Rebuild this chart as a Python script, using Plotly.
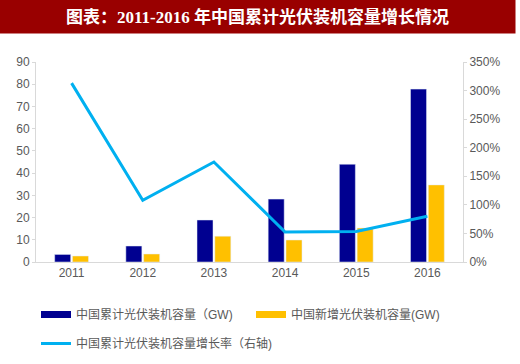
import plotly.graph_objects as go

years = ["2011", "2012", "2013", "2014", "2015", "2016"]
cumulative_gw = [3.4, 7.2, 18.9, 28.3, 44.0, 77.8]
new_gw = [2.7, 3.6, 11.6, 9.9, 15.3, 34.7]
growth_rate = [3.13, 1.08, 1.75, 0.525, 0.535, 0.80]

title_text = "图表：2011-2016 年中国累计光伏装机容量增长情况"
name_cum = "中国累计光伏装机容量（GW)"
name_new = "中国新增光伏装机容量(GW)"
name_rate = "中国累计光伏装机容量增长率（右轴)"

navy = "#000090"
gold = "#FFC000"
sky = "#00B0F0"
gray = "#595959"
axis_gray = "#D9D9D9"

fig = go.Figure()
fig.add_trace(go.Bar(x=years, y=cumulative_gw, name=name_cum, marker_color=navy,
                     showlegend=False))
fig.add_trace(go.Bar(x=years, y=new_gw, name=name_new, marker_color=gold,
                     showlegend=False))
fig.add_trace(go.Scatter(x=years, y=growth_rate, name=name_rate, mode="lines",
                         line=dict(color=sky, width=3), yaxis="y2", showlegend=False))

# legend entries styled as thick line swatches, like the reference
fig.add_trace(go.Scatter(x=[None], y=[None], mode="lines", name=name_cum,
                         line=dict(color=navy, width=7), legend="legend"))
fig.add_trace(go.Scatter(x=[None], y=[None], mode="lines", name=name_new,
                         line=dict(color=gold, width=7), legend="legend"))
fig.add_trace(go.Scatter(x=[None], y=[None], mode="lines", name=name_rate,
                         line=dict(color=sky, width=3), legend="legend2"))

font_family = "Liberation Sans, Noto Sans CJK SC, sans-serif"

fig.update_layout(
    width=520, height=364,
    margin=dict(l=36, r=57, t=62, b=102, autoexpand=False),
    paper_bgcolor="white", plot_bgcolor="white",
    font=dict(family=font_family, size=12, color=gray),
    barmode="group", bargap=0.5, bargroupgap=0.1,
    xaxis=dict(type="category", showline=True, linecolor=axis_gray, linewidth=1,
               ticks="", showgrid=False, automargin=False,
               tickfont=dict(size=12, color=gray)),
    yaxis=dict(range=[0, 90], dtick=10, showline=True, linecolor=axis_gray,
               ticks="outside", ticklen=3, tickcolor=axis_gray, showgrid=False,
               zeroline=False, automargin=False, tickfont=dict(size=12, color=gray)),
    yaxis2=dict(range=[0, 3.5], dtick=0.5, tickformat=".0%", overlaying="y",
                side="right", showline=True, linecolor=axis_gray, ticks="outside",
                ticklen=3, tickcolor=axis_gray, showgrid=False, zeroline=False,
                automargin=False, tickfont=dict(size=12, color=gray)),
    legend=dict(orientation="h", x=0.0, xanchor="left", y=-0.19, yanchor="top",
                entrywidth=170, entrywidthmode="pixels", itemwidth=30,
                font=dict(size=12, color=gray), bgcolor="rgba(0,0,0,0)"),
    legend2=dict(orientation="h", x=0.0, xanchor="left", y=-0.335, yanchor="top",
                 font=dict(size=12, color=gray), itemwidth=30,
                 bgcolor="rgba(0,0,0,0)"),
    annotations=[dict(
        text="<b>" + title_text + "</b>", xref="paper", yref="paper",
        x=(257.5 - 36) / 427, y=(262 - 16.5) / 200, xanchor="center", yanchor="middle",
        width=515, height=33, bgcolor="#990000", borderpad=0, showarrow=False,
        font=dict(family="Liberation Serif, Noto Sans CJK SC, serif", size=17,
                  color="white"))],
)

fig.write_html("out.html",
               config={"displayModeBar": False},
               post_script="document.body.style.margin='0px';"
                           "document.body.style.overflow='hidden';")
